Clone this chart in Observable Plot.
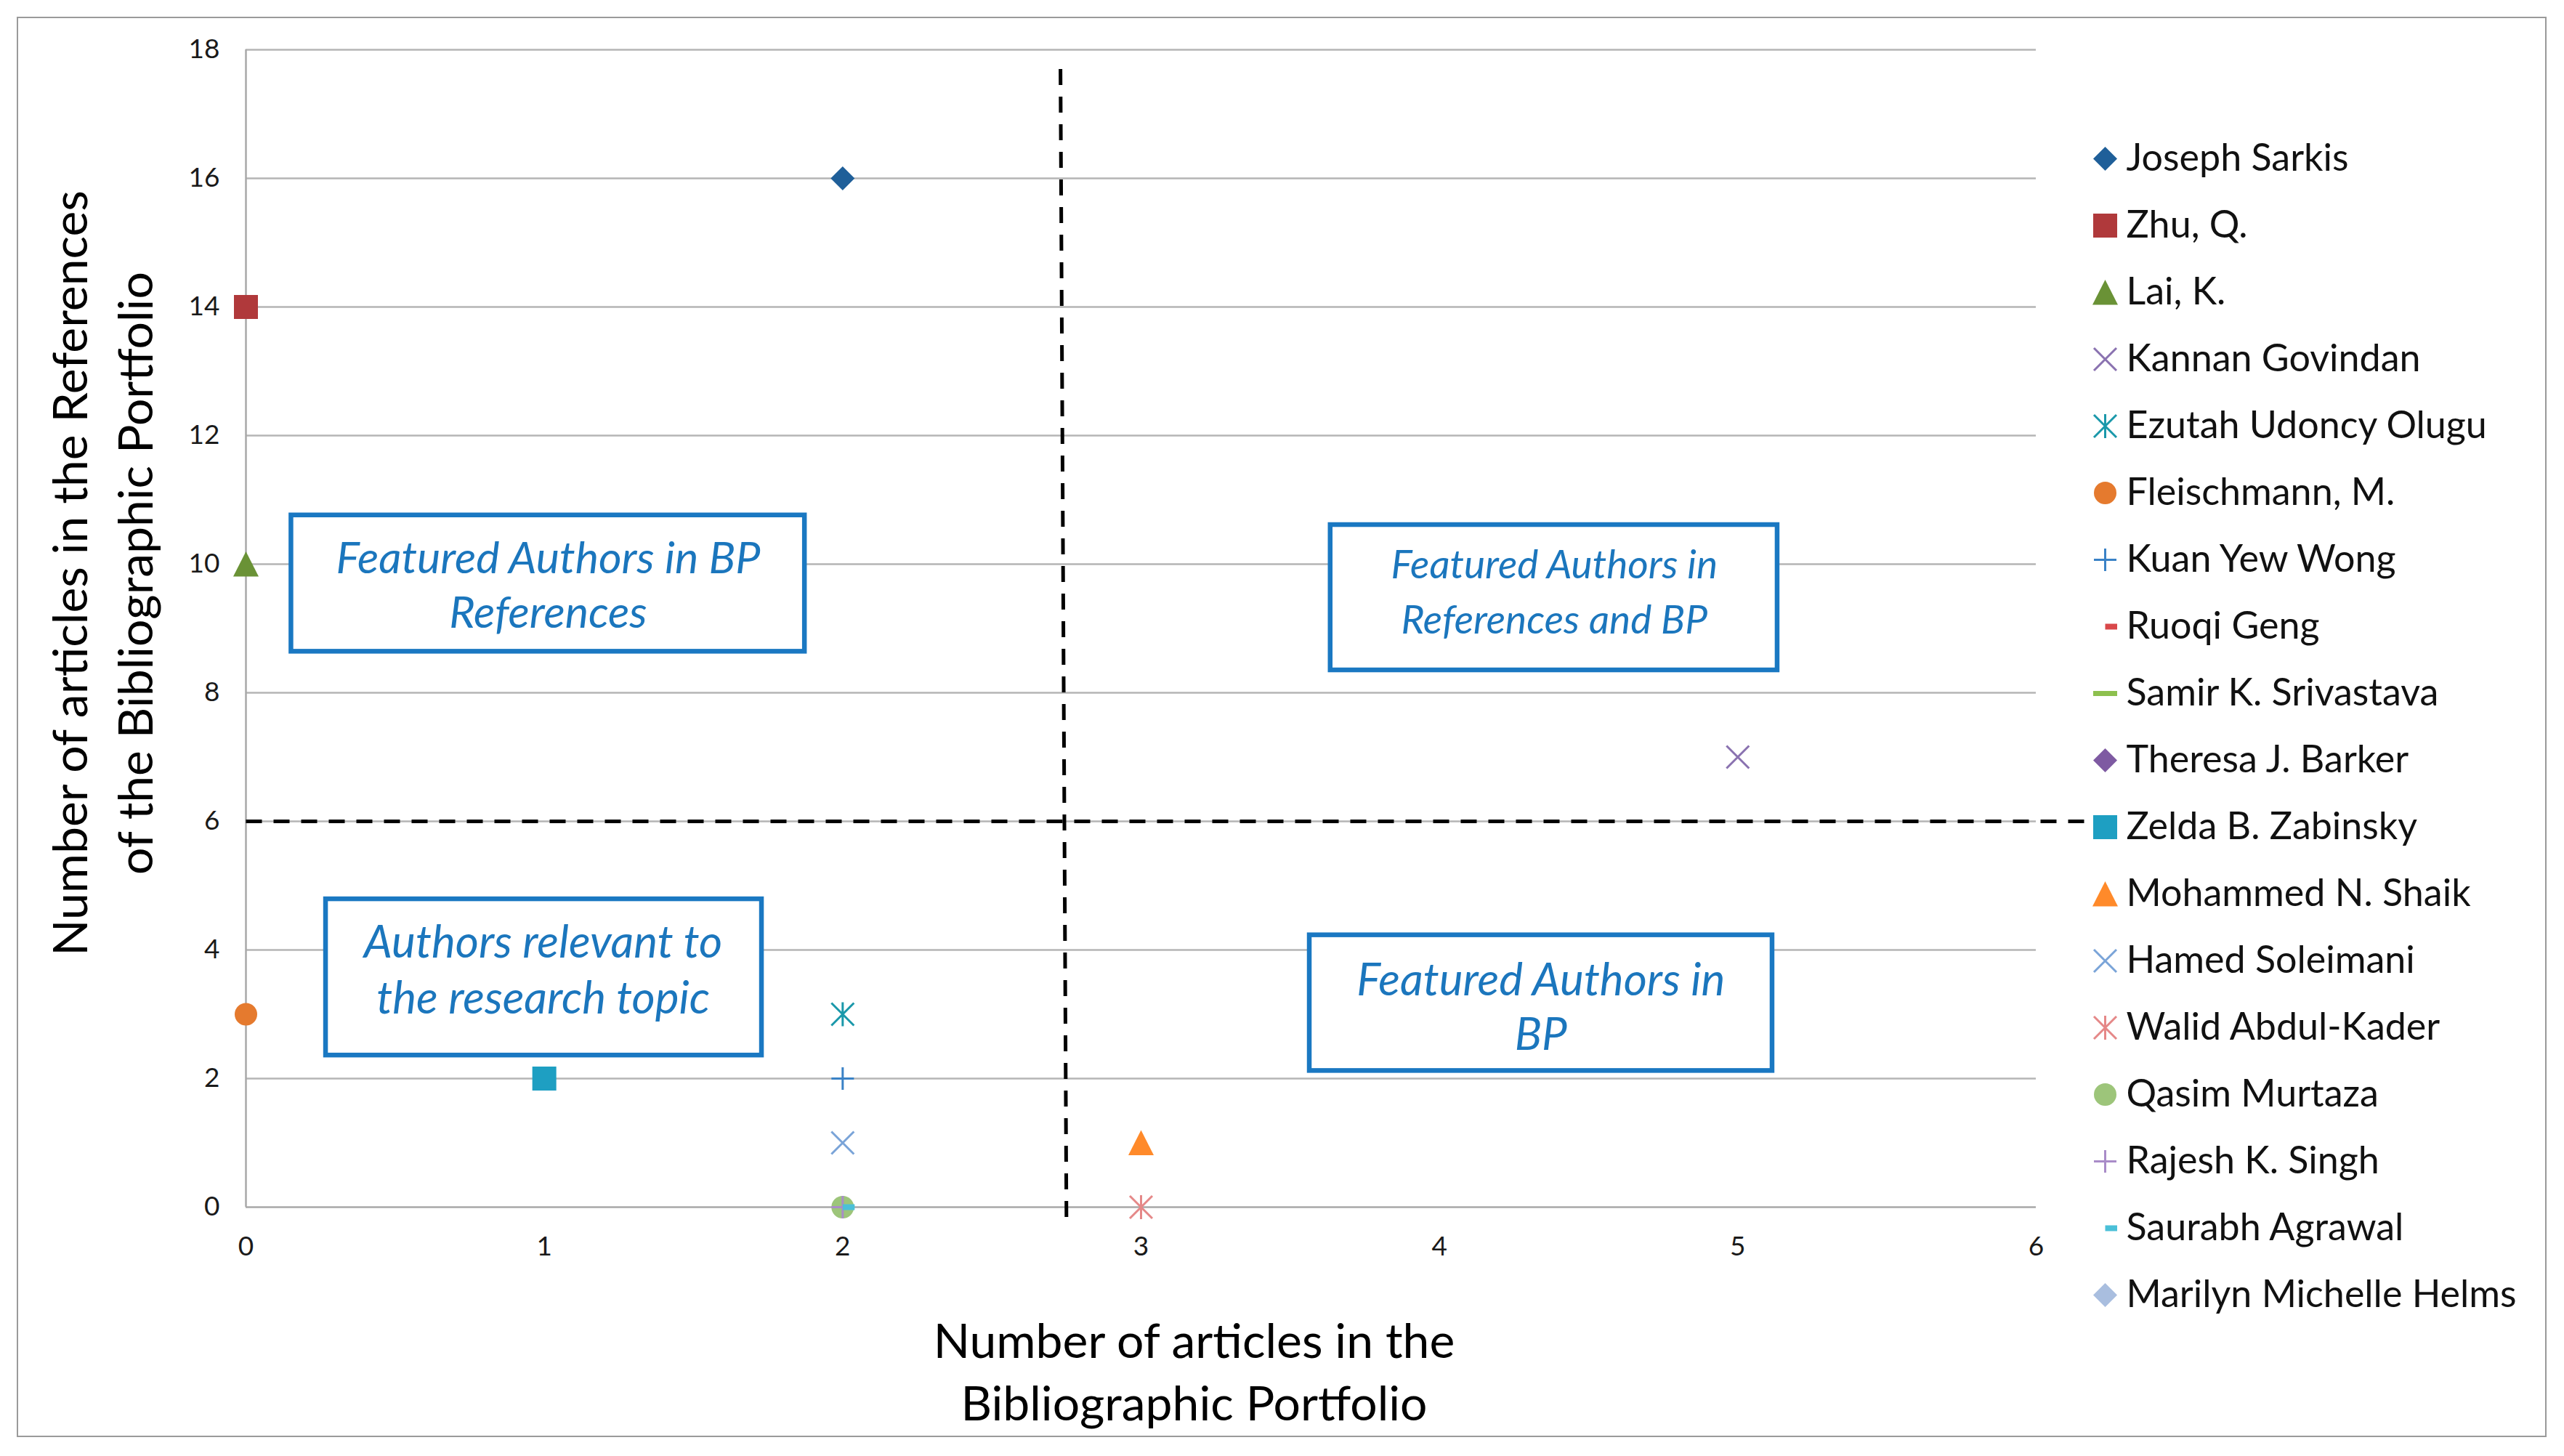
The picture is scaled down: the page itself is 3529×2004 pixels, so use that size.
<!DOCTYPE html>
<html>
<head>
<meta charset="utf-8">
<script src="https://cdn.jsdelivr.net/npm/d3@7"></script>
<script src="https://cdn.jsdelivr.net/npm/@observablehq/plot@0.6"></script>
<style>
html, body { margin: 0; padding: 0; background: #fff; }
#wrap { position: relative; width: 3529px; height: 2004px; background: #fff; overflow: hidden; font-family: Lato, sans-serif; }
#main { position: absolute; left: 0; top: 0; }
#legend { position: absolute; left: 2850px; top: 0; }
#border { position: absolute; left: 23px; top: 23px; width: 3482px; height: 1955px; border: 2.5px solid #9a9a9a; box-sizing: border-box; pointer-events: none; }
</style>
</head>
<body>
<div id="wrap"><div id="main"></div><div id="legend"></div><div id="border"></div></div>
<script>
// ---- data ----
const authors = [
  "Joseph Sarkis", "Zhu, Q.", "Lai, K.", "Kannan Govindan", "Ezutah Udoncy Olugu",
  "Fleischmann, M.", "Kuan Yew Wong", "Ruoqi Geng", "Samir K. Srivastava", "Theresa J. Barker",
  "Zelda B. Zabinsky", "Mohammed N. Shaik", "Hamed Soleimani", "Walid Abdul-Kader",
  "Qasim Murtaza", "Rajesh K. Singh", "Saurabh Agrawal", "Marilyn Michelle Helms"
];
const articlesInBP         = [2, 0, 0, 5, 2, 0, 2, null, null, null, 1, 3, 2, 3, 2, 2, 2, null];
const articlesInReferences = [16, 14, 10, 7, 3, 3, 2, null, null, null, 2, 1, 1, 0, 0, 0, 0, null];
const xTicks = [0, 1, 2, 3, 4, 5, 6];
const yTicks = [0, 2, 4, 6, 8, 10, 12, 14, 16, 18];
const xTitle = "Number of articles in the\nBibliographic Portfolio";
const yTitle = "Number of articles in the References\nof the Bibliographic Portfolio";
const quadrantLabels = [
  "Featured Authors in BP\nReferences",
  "Featured Authors in\nReferences and BP",
  "Authors relevant to\nthe research topic",
  "Featured Authors in\nBP"
];
// quadrant thresholds (data units)
const bpThreshold = 2.74;
const refThreshold = 6;

// ---- annotation geometry (data units) ----
const quadrantBoxes = [
  {x1: 0.152, x2: 1.873, y1: 10.76, y2: 8.64, tx: 1.013, ty: 9.71},
  {x1: 3.635, x2: 5.133, y1: 10.61, y2: 8.35, tx: 4.385, ty: 9.62},
  {x1: 0.268, x2: 1.729, y1: 4.79, y2: 2.36, tx: 0.996, ty: 3.72},
  {x1: 3.565, x2: 5.116, y1: 4.23, y2: 2.12, tx: 4.34, ty: 3.14}
];
const quadrantFontSizes = [61, 55, 62, 62];
const quadrantLineHeights = [1.23, 1.38, 1.24, 1.2];
const dividerLines = [
  {x1: bpThreshold - 0.01, y1: 17.7, x2: bpThreshold + 0.01, y2: -0.2},
  {x1: 0, y1: refThreshold, x2: 6.22, y2: refThreshold}
];

// ---- marker styles ----
function sym(drawFn) { return {draw(ctx) { drawFn(ctx); }}; }
const S = {
  diamond: sym(c => { const r = 16.5; c.moveTo(0, -r); c.lineTo(r, 0); c.lineTo(0, r); c.lineTo(-r, 0); c.closePath(); }),
  square: sym(c => { c.rect(-16.5, -16.5, 33, 33); }),
  triangle: sym(c => { c.moveTo(0, -17.5); c.lineTo(17.5, 17); c.lineTo(-17.5, 17); c.closePath(); }),
  times: sym(c => { const r = 15.5; c.moveTo(-r, -r); c.lineTo(r, r); c.moveTo(r, -r); c.lineTo(-r, r); }),
  asterisk: sym(c => { const r = 15.5; c.moveTo(-r, -r); c.lineTo(r, r); c.moveTo(r, -r); c.lineTo(-r, r); c.moveTo(0, -r - 1); c.lineTo(0, r + 1); }),
  circle: sym(c => { c.moveTo(15.5, 0); c.arc(0, 0, 15.5, 0, 2 * Math.PI); }),
  plus: sym(c => { const r = 15.5; c.moveTo(-r, 0); c.lineTo(r, 0); c.moveTo(0, -r); c.lineTo(0, r); }),
  shortDash: sym(c => { c.rect(0, -4, 16.5, 8); }),
  longDash: sym(c => { c.rect(-16.5, -3.5, 33, 7); })
};
const markerSymbols = [S.diamond, S.square, S.triangle, S.times, S.asterisk, S.circle, S.plus, S.shortDash, S.longDash,
  S.diamond, S.square, S.triangle, S.times, S.asterisk, S.circle, S.plus, S.shortDash, S.diamond];
const markerFilled = [true, true, true, false, false, true, false, true, true, true, true, true, false, false, true, false, true, true];
const markerColors = ["#1f5f99", "#b0393b", "#6a9236", "#8a72b0", "#1a98aa", "#e57a2e", "#3a82c6", "#d9484a", "#8dc04e",
  "#7e5aa2", "#1e9fc2", "#ff8a2a", "#7aa4d8", "#e58888", "#9dc57a", "#a98cc8", "#4bc0d8", "#a9bedf"];

const table = authors.map((a, i) => ({author: a, bp: articlesInBP[i], refs: articlesInReferences[i]}))
  .filter(d => d.bp != null && d.refs != null);

const colorScale = {domain: authors, range: markerColors};
const symbolScale = {domain: authors, range: markerSymbols};

function authorDots(a, i, extra) {
  const rows = extra.legend ? [a] : table.filter(d => d.author === a);
  const base = extra.legend
    ? {y: d => d, symbol: d => d, frameAnchor: "left"}
    : {x: "bp", y: "refs", symbol: "author"};
  const key = extra.legend ? (d => d) : "author";
  return markerFilled[i]
    ? Plot.dot(rows, {...base, fill: key, stroke: "none", r: 10})
    : Plot.dot(rows, {...base, stroke: key, fill: "none", strokeWidth: 3, r: 10});
}

const main = Plot.plot({
  width: 3529, height: 2004,
  marginLeft: 338, marginRight: 727, marginTop: 68, marginBottom: 343,
  style: {fontFamily: "Lato, sans-serif", background: "transparent"},
  x: {domain: [0, 6], label: null},
  y: {domain: [0, 18], label: null},
  color: colorScale,
  symbol: symbolScale,
  marks: [
    Plot.gridY(yTicks.filter(t => t > 0), {stroke: "#b5b5b5", strokeOpacity: 1, strokeWidth: 2.5}),
    Plot.ruleY([0], {stroke: "#a8a8a8", strokeWidth: 2.5}),
    Plot.ruleX([0], {y1: 0, y2: 18, stroke: "#a8a8a8", strokeWidth: 2.5}),
    Plot.axisX({ticks: xTicks, tickSize: 0, tickPadding: 40, fontSize: 37, color: "#1a1a1a", label: null, tickFormat: d3.format("d")}),
    Plot.axisY({ticks: yTicks, tickSize: 0, tickPadding: 36, fontSize: 37, color: "#1a1a1a", label: null, tickFormat: d3.format("d")}),
    Plot.link(dividerLines, {x1: "x1", y1: "y1", x2: "x2", y2: "y2", stroke: "#000", strokeWidth: 5, strokeDasharray: "22,16"}),
    ...authors.map((a, i) => authorDots(a, i, {legend: false})),
    Plot.rect(quadrantBoxes, {x1: "x1", x2: "x2", y1: "y1", y2: "y2", fill: "#fff", stroke: "#1a78c2", strokeWidth: 6.5}),
    ...quadrantBoxes.map((b, i) => Plot.text([b], {
      x: "tx", y: "ty", text: () => quadrantLabels[i], fontStyle: "italic", fill: "#1b76bd",
      fontSize: quadrantFontSizes[i], lineHeight: quadrantLineHeights[i], textAnchor: "middle", lineAnchor: "middle"
    })),
    Plot.text([xTitle], {text: d => d, frameAnchor: "bottom", lineAnchor: "middle", dx: 73, dy: 223, fontSize: 66, lineHeight: 1.3, fill: "#000", textAnchor: "middle"}),
    Plot.text([yTitle], {text: d => d, frameAnchor: "left", lineAnchor: "middle", rotate: -90, dx: -202, dy: -76, fontSize: 66, lineHeight: 1.36, fill: "#000", textAnchor: "middle"})
  ]
});
document.getElementById("main").appendChild(main);

const legend = Plot.plot({
  width: 660, height: 2004,
  marginLeft: 47, marginRight: 0, marginTop: 0, marginBottom: 0,
  style: {fontFamily: "Lato, sans-serif", background: "transparent"},
  y: {type: "point", domain: authors, range: [218, 1782], padding: 0, axis: null},
  color: colorScale,
  symbol: symbolScale,
  marks: [
    ...authors.map((a, i) => authorDots(a, i, {legend: true})),
    Plot.text(authors, {y: d => d, text: d => d, frameAnchor: "left", dx: 29, textAnchor: "start", fontSize: 52, fill: "#111"})
  ]
});
document.getElementById("legend").appendChild(legend);
</script>
</body>
</html>
